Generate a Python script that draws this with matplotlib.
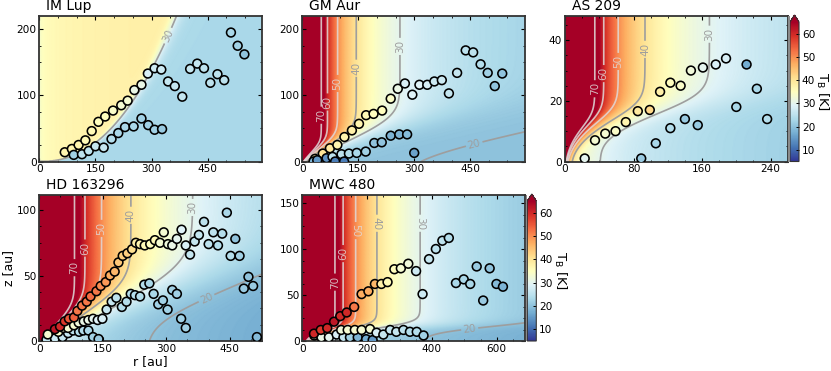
import numpy as np
import matplotlib
matplotlib.use('Agg')
import matplotlib.pyplot as plt
from matplotlib.patches import Rectangle
from matplotlib.ticker import AutoMinorLocator

W, H = 831, 371

disks = ['IM Lup', 'GM Aur', 'AS 209', 'HD 163296', 'MWC 480']

# temperature structure of each disk
T_atm100 = [35.5, 48.2, 36.5, 62.4, 70.0]
q_atm = [-0.03, 0.55, 0.608, 0.6, 0.7]
T_mid100 = [23.0, 20.2, 25.8, 24.0, 26.0]
q_mid = [0.0, 0.01, 0.168, 0.197, 0.2]
z0 = [1.47, 12.3, 4.45, 9.1, 5.2]
beta = [2.3, 0.5, 0.2, 0.5, 0.1]
alpha = [8.0, 3.0, 4.0, 3.0, 3.0]

r_max = [595, 597, 260, 526, 687]
z_max = [220, 220, 48, 111.5, 158.7]

# emission surface points, r [au], z [au], Tb [K]
r_imlup = [68, 87, 105, 123, 140, 158, 176, 197, 219, 236, 254, 273, 290, 308, 326, 344, 362, 382, 403, 422, 440, 457, 476, 494, 512, 530, 548,
           92, 114, 132, 150, 172, 193, 211, 229, 252, 273, 291, 308, 328]
z_imlup = [14, 19, 25, 32, 46, 60, 68, 77, 85, 92, 108, 116, 133, 141, 139, 121, 114, 98, 140, 148, 141, 119, 132, 123, 195, 175, 162,
           10, 11, 16, 23, 21, 34, 43, 52, 53, 65, 55, 48, 49]
t_imlup = [37, 37, 37, 36, 36, 35, 35, 34, 33, 33, 31, 31, 28, 27, 27, 26, 26, 26, 26, 26, 25, 25, 25, 25, 23, 22, 20,
           22, 25, 25, 26, 26, 24, 23, 23, 23, 22, 22, 22, 21]

r_gmaur = [34, 55, 74, 94, 113, 133, 152, 171, 191, 214, 237, 256, 275, 295, 314, 335, 354, 374, 393, 415, 438, 458, 478, 497, 516, 536,
           30, 40, 65, 81, 105, 125, 146, 170, 193, 213, 237, 260, 281, 300, 88, 112]
z_gmaur = [4, 12, 20, 25, 37, 47, 57, 70, 72, 77, 95, 110, 118, 101, 116, 116, 121, 123, 103, 134, 168, 165, 147, 134, 114, 133,
           0, 2, 5, 7, 11, 12, 13, 15, 28, 29, 39, 41, 41, 13, 0, 0]
t_gmaur = [38, 40, 39, 37, 37, 38, 37, 36, 35, 35, 34, 31, 28, 29, 29, 28, 27, 27, 26, 26, 25, 25, 24, 22, 20, 20,
           18, 15, 14, 25, 25, 24, 23, 22, 20, 20, 18, 18, 19, 16, 12, 12]

r_as209 = [23, 35, 47, 59, 71, 85, 99, 111, 123, 135, 147, 161, 176, 188, 212, 224, 236, 200, 89, 106, 123, 140, 155]
z_as209 = [1, 7, 9.2, 10, 13, 16.6, 17, 23, 26, 25, 30, 31, 32, 34, 32, 24, 14, 18, 1, 6, 11, 14, 12]
t_as209 = [30, 33, 33, 34, 37, 39, 42, 38, 35, 34, 32, 30, 28, 28, 17, 23, 24, 23, 21, 23, 24, 21, 21]

r_hd = [17, 37, 55, 68, 80, 94, 104, 116, 127, 140,
        45, 57, 68, 82, 93, 105, 116, 127, 138, 149, 159, 171, 182, 195, 206, 216, 226, 238, 248, 260, 270, 281, 292, 303, 314, 325, 335, 346, 514,
        37, 49, 60, 70, 82, 90, 101, 112, 121, 135, 145, 157, 167, 178, 187, 197, 208, 219, 228, 238, 249, 262, 273, 285, 294, 304, 314, 325, 336, 346, 356, 367, 377, 389, 400, 411, 422, 432, 443, 463, 452, 473, 483, 494, 505, 20]
z_hd = [1, 2, 3, 6, 8, 7, 8, 8, 3, 1.5,
        7, 10, 10, 12, 14, 15, 16, 17, 16, 17, 24, 30, 33, 26, 30, 36, 35, 34, 43, 44, 36, 28, 31, 24, 39, 36, 17, 10, 3,
        9, 11, 15, 17, 18, 23, 27, 30, 34, 38, 42, 45, 50, 53, 60, 65, 67, 70, 75, 74, 73, 74, 77, 75, 83, 74, 73, 78, 85, 73, 66, 76, 81, 91, 74, 83, 73, 82, 98, 78, 65, 65, 40, 49, 42, 5]
t_hd = [26, 27, 26, 26, 25, 24, 24, 23, 22, 21,
        34, 33, 33, 33, 32, 31, 31, 30, 29, 28, 26, 26, 25, 24, 24, 24, 24, 24, 24, 23, 23, 22, 22, 22, 22, 22, 22, 22, 19,
        62, 60, 58, 55, 54, 52, 52, 52, 53, 52, 50, 49, 47, 46, 44, 43, 43, 41, 38, 37, 36, 35, 36, 33, 33, 32, 31, 30, 29, 28, 26, 26, 26, 25, 25, 25, 24, 24, 23, 20, 24, 22, 21, 20, 21, 33]

r_mwc = [37, 59, 82, 106, 127, 147, 171, 197, 217, 120, 140, 162, 183, 209, 229, 250, 271, 290, 312, 332, 353, 374,
         36, 57, 77, 98, 117, 137, 160, 183, 204, 224, 244, 263, 284, 304, 327, 351, 371, 391, 412, 432, 452, 474, 498, 518, 538, 558, 578, 599, 619]
z_mwc = [6, 4, 4, 7, 4, 4, 4, 2, 1, 12, 12, 12, 12, 13, 9, 7, 12, 10, 12, 10, 10, 6,
         8, 12, 14, 21, 27, 31, 37, 51, 54, 62, 62, 64, 78, 79, 84, 76, 51, 89, 100, 109, 112, 63, 67, 62, 81, 44, 79, 62, 59]
t_mwc = [33, 31, 30, 28, 26, 22, 18, 17, 15, 32, 33, 33, 33, 33, 28, 26, 26, 26, 25, 24, 24, 22,
         60, 58, 60, 62, 60, 60, 52, 47, 47, 46, 38, 36, 35, 33, 32, 27, 27, 26, 25, 25, 24, 23, 23, 23, 21, 21, 20, 19, 18]

points = [(r_imlup, z_imlup, t_imlup), (r_gmaur, z_gmaur, t_gmaur), (r_as209, z_as209, t_as209),
          (r_hd, z_hd, t_hd), (r_mwc, z_mwc, t_mwc)]

xticks = [[0, 150, 300, 450], [0, 150, 300, 450], [0, 80, 160, 240], [0, 150, 300, 450], [0, 200, 400, 600]]
yticks = [[0, 100, 200], [0, 100, 200], [0, 20, 40], [0, 50, 100], [0, 50, 100, 150]]
xminor = [3, 3, 4, 3, 4]

levels = [20, 30, 40, 50, 60, 70]
dark_line = (0.62, 0.62, 0.62, 1.0)
light_line = (0.88, 0.85, 0.85, 0.85)
line_cols = [dark_line, dark_line, dark_line, light_line, light_line, light_line]

# where the contour labels sit, one list per panel
label_pos = [[(345, 190)],
             [(461, 26), (262, 174), (144, 141), (94, 118), (67, 90), (49, 70)],
             [(168, 42), (93, 37), (62, 33), (44, 29), (32, 24)],
             [(396, 32), (358, 102), (214, 96), (146, 86), (108, 71), (82, 56)],
             [(516, 14), (356, 128), (226, 128), (161, 120), (122, 95), (99, 64)]]

boxes = [(39.3, 16, 262, 161.5), (302.3, 16, 525, 161.5), (565, 16, 787.7, 161.5),
         (39.3, 195, 262, 341), (302.3, 195, 525, 341)]


def temperature(i, r, z):
    ta = T_atm100[i] * (r / 100.0) ** (-q_atm[i])
    tm = T_mid100[i] * (r / 100.0) ** (-q_mid[i])
    zq = z0[i] * (r / 100.0) ** beta[i]
    return (tm ** 4 + 0.5 * ta ** 4 * (1 + np.tanh((z - alpha[i] * zq) / zq))) ** 0.25


def px_axes(box):
    x0, y0, x1, y1 = box
    return fig.add_axes([x0 / W, 1 - y1 / H, (x1 - x0) / W, (y1 - y0) / H])


fig = plt.figure(figsize=(W / 100, H / 100), dpi=100)

for i, name in enumerate(disks):
    ax = px_axes(boxes[i])
    r = np.linspace(0.5, r_max[i], 500)
    z = np.linspace(0, z_max[i], 400)
    rr, zz = np.meshgrid(r, z)
    T = temperature(i, rr, zz)
    im = ax.pcolormesh(rr, zz, T, cmap='RdYlBu_r', vmin=5, vmax=65, shading='gouraud', rasterized=True)
    cs = ax.contour(rr, zz, T, levels=levels, colors=line_cols, linewidths=1.2)
    ax.clabel(cs, fmt='%d', fontsize=7.5, manual=label_pos[i], inline=True, inline_spacing=2)
    pr, pz, pt = points[i]
    ax.scatter(pr, pz, c=pt, cmap='RdYlBu_r', vmin=5, vmax=65, s=40, edgecolors='k', linewidths=1.15, zorder=5)

    ax.set_xlim(0, r_max[i])
    ax.set_ylim(0, z_max[i])
    ax.set_xticks(xticks[i])
    ax.set_yticks(yticks[i])
    ax.xaxis.set_minor_locator(AutoMinorLocator(xminor[i]))
    ax.yaxis.set_minor_locator(AutoMinorLocator(4))
    ax.tick_params(which='major', direction='in', top=True, right=True, length=3, width=0.8, labelsize=7.6, pad=2)
    ax.tick_params(which='minor', direction='in', top=True, right=True, length=1.5, width=0.6)
    for s in ax.spines.values():
        s.set_linewidth(1.3)
        s.set_color('#333333')
    ax.text(0.03, 1.02, name, transform=ax.transAxes, fontsize=10, ha='left', va='bottom')
    if i == 3:
        ax.set_xlabel('r [au]', fontsize=9, labelpad=1)
        ax.set_ylabel('z [au]', fontsize=9, labelpad=1)
    if i in (2, 4):
        x1 = boxes[i][2]
        # grey strip between the panel and its colorbar
        fig.add_artist(Rectangle(((x1 + 0.6) / W, 1 - boxes[i][3] / H), 1.8 / W, (boxes[i][3] - boxes[i][1]) / H,
                                 transform=fig.transFigure, color='#8a8a8a', lw=0))
        cax = px_axes((x1 + 2.3, boxes[i][1] - 1, x1 + 11.3, boxes[i][3]))
        cb = fig.colorbar(im, cax=cax, extend='max', extendfrac=0.05, ticks=[10, 20, 30, 40, 50, 60])
        cb.ax.tick_params(labelsize=7.6, length=2, width=0.7, direction='in', pad=2)
        cb.outline.set_edgecolor('#333333')
        cb.set_label(r'T$_{\mathrm{B}}$ [K]', fontsize=9.5, rotation=270, labelpad=11)

fig.savefig('out.png', dpi=100)
